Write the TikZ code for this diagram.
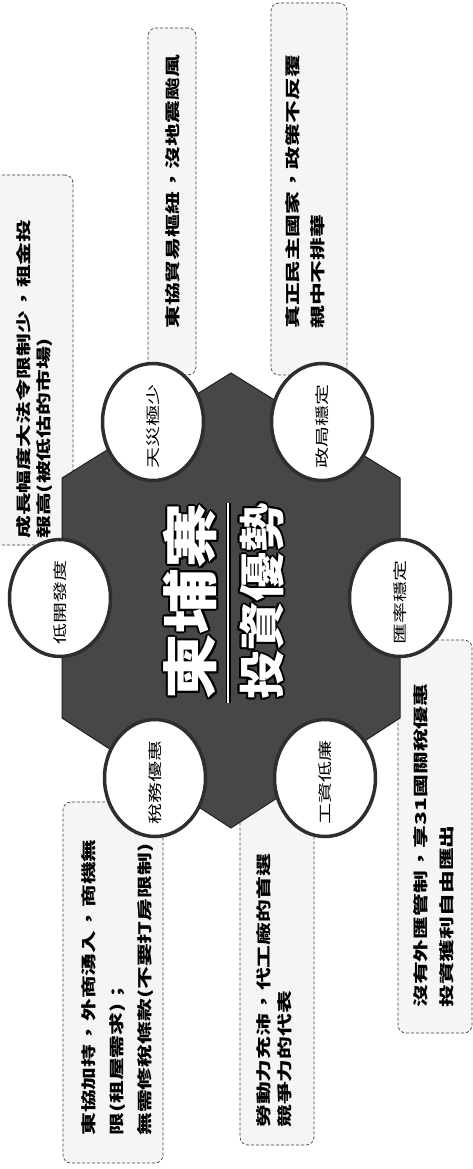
\documentclass[tikz,border=0pt]{standalone}
\usepackage{fontspec}
\newfontfamily\cjk{Noto Sans CJK TC}
\usetikzlibrary{shapes.geometric}
\tikzset{
  callout/.style={draw=black!75, densely dashed, line width=0.7pt, fill=black!4,
    rounded corners=8pt, inner sep=0pt},
  bubble/.style={ellipse, draw=black!82, line width=3.5pt, fill=white,
    minimum width=101pt, minimum height=117pt, inner sep=0pt},
  vtext/.style={rotate=90, xscale=1.52, inner sep=0pt, anchor=north west, align=left,
    font=\cjk\bfseries\fontsize{15}{#1}\selectfont},
  vtext/.default=20,
  ctext/.style={rotate=90, xscale=1.5, inner sep=0pt, font=\cjk\fontsize{14}{14}\selectfont},
  bigA/.style={rotate=90, xscale=1.17, inner sep=0pt, font=\cjk\bfseries\fontsize{56}{56}\selectfont},
  bigB/.style={rotate=90, xscale=1.07, inner sep=0pt, font=\cjk\bfseries\fontsize{46}{46}\selectfont},
}
\begin{document}
\begin{tikzpicture}[x=1pt,y=-1pt]
\useasboundingbox (0,0) rectangle (473,1169);
\fill[white] (0,0) rectangle (473,1169);
\clip (0,0) rectangle (473,1169);

% callout boxes (behind)
\node[callout, minimum width=83pt, minimum height=370pt] (b1) at (31.5,360) {};
\node[callout, minimum width=100pt, minimum height=361pt] (b2) at (113,982.5) {};
\node[callout, minimum width=74pt, minimum height=365pt] (b3) at (277,962.5) {};
\node[callout, minimum width=74pt, minimum height=393pt] (b4) at (435,836.5) {};
\node[callout, minimum width=48pt, minimum height=347pt] (b5) at (172,201.5) {};
\node[callout, minimum width=76pt, minimum height=372pt] (b6) at (309,189) {};

% central hexagon
\coordinate (hT) at (231,373);
\coordinate (hUR) at (400,478);
\coordinate (hLR) at (400,718);
\coordinate (hB) at (231,828);
\coordinate (hLL) at (62,718);
\coordinate (hUL) at (62,478);
\filldraw[fill=black!72, draw=black!88, line width=1pt]
  (hT) -- (hUR) -- (hLR) -- (hB) -- (hLL) -- (hUL) -- cycle;

% circles
\node[bubble] (c1) at (60,598) {};
\node[bubble] (c2) at (153,422) {};
\node[bubble] (c3) at (322,422) {};
\node[bubble] (c4) at (400,598) {};
\node[bubble] (c5) at (155,778) {};
\node[bubble] (c6) at (325,778) {};
\node[ctext] (t1) at ([yshift=-4pt]c1.center) {低開發度};
\node[ctext] (t2) at ([yshift=-4pt]c2.center) {天災極少};
\node[ctext] (t3) at ([yshift=-4pt]c3.center) {政局穩定};
\node[ctext] (t4) at ([yshift=-4pt]c4.center) {匯率穩定};
\node[ctext] (t5) at ([yshift=-4pt]c5.center) {稅務優惠};
\node[ctext] (t6) at ([yshift=-4pt]c6.center) {工資低廉};

% callout texts
\node[vtext=20] (x1) at (16.5,539) {成長幅度大法令限制少，租金投\\報高(被低估的市場)};
\node[vtext=28] (x2) at (81.5,1136) {東協加持，外商湧入，商機無\\限(租屋需求)；\\無需修稅條款(不要打房限制)};
\node[vtext=21] (x3) at (256.5,1128) {勞動力充沛，代工廠的首選\\競爭力的代表};
\node[vtext=26] (x4) at (413.5,1008) {沒有外匯管制，享31國關稅優惠\\投資獲利自由匯出};
\node[vtext] (x5) at (165.5,329) {東協貿易樞紐，沒地震颱風};
\node[vtext=25] (x6) at (285.5,329) {真正民主國家，政策不反覆\\親中不排華};

% central title
\foreach \dx/\dy [count=\i] in {2/0,-2/0,0/2,0/-2,1.5/1.5,1.5/-1.5,-1.5/1.5,-1.5/-1.5} {
  \node[bigA, text=black] (oa\i) at (190+\dx,601.5+\dy) {柬埔寨};
  \node[bigB, text=black] (ob\i) at (261.5+\dx,601.5+\dy) {投資優勢};
}
\node[bigA, text=white] (title) at (190,601.5) {柬埔寨};
\node[bigB, text=white] (sub) at (261.5,601.5) {投資優勢};
\coordinate (lt) at (228,503);
\coordinate (lb) at (228,703);
\draw[black, line width=5pt] (lt) -- (lb);
\draw[white, line width=2.5pt] (lt) -- (lb);
\end{tikzpicture}
\end{document}
